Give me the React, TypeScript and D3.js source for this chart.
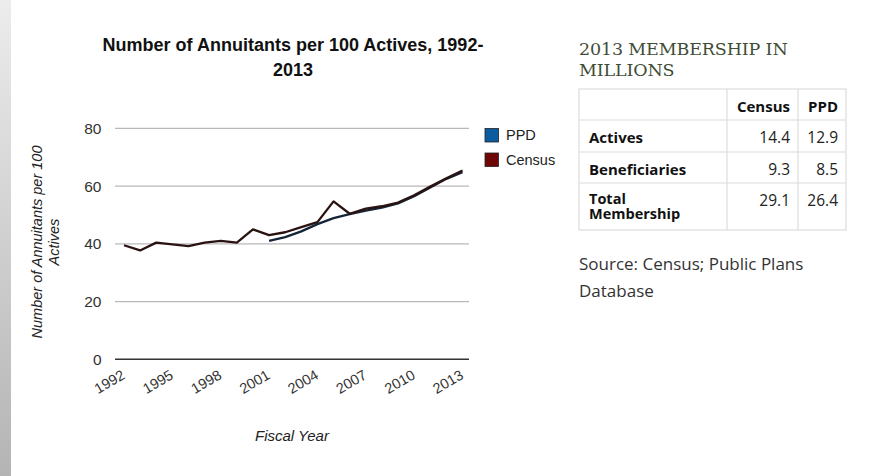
import React from "react";
import * as d3 from "d3";

const years = d3.range(1992, 2014);
const censusValues = [39.5, 37.7, 40.4, 39.8, 39.2, 40.4, 41.0, 40.4, 45.0, 43.0, 44.0, 45.8, 47.5, 54.7, 50.4, 52.2, 53.0, 54.3, 56.8, 59.8, 62.7, 65.4];
const ppdYears = d3.range(2001, 2014);
const ppdValues = [41.0, 42.3, 44.3, 46.8, 48.9, 50.3, 51.5, 52.5, 54.0, 56.5, 59.5, 62.5, 64.8];
const yTicks = [0, 20, 40, 60, 80];
const xTicks = [1992, 1995, 1998, 2001, 2004, 2007, 2010, 2013];
const seriesNames = ["PPD", "Census"];
const seriesColors = ["#0b5c9e", "#6e0606"];
const lineColors = ["#14253a", "#2a1210"];

const tableCols = ["Census", "PPD"];
const tableRows = ["Actives", "Beneficiaries", "Total Membership"];
const censusMembership = ["14.4", "9.3", "29.1"];
const ppdMembership = ["12.9", "8.5", "26.4"];

export default function App() {
  const x = d3.scaleLinear().domain([1992, 2013]).range([124, 462.5]);
  const y = d3.scaleLinear().domain([0, 80]).range([359.3, 128.3]);
  const line = d3.line<[number, number]>().x((d) => x(d[0])).y((d) => y(d[1]));
  const censusPts = years.map((yr, i) => [yr, censusValues[i]] as [number, number]);
  const ppdPts = ppdYears.map((yr, i) => [yr, ppdValues[i]] as [number, number]);

  const sans = "'Liberation Sans', Arial, sans-serif";
  const tFont = "'Open Sans', 'Noto Sans', sans-serif";

  const tx0 = 579, tx1 = 846, c1 = 727, c2 = 798;
  const rowYs = [89, 120, 152, 183, 230];

  return (
    <div style={{ position: "fixed", left: 0, top: 0, width: 896, height: 476, background: "#fff" }}>
      <svg width={896} height={476} style={{ display: "block" }}>
        <defs>
          <linearGradient id="edge" x1="0" y1="0" x2="0" y2="1">
            <stop offset="0" stopColor="#ececec" />
            <stop offset="1" stopColor="#b4b4b4" />
          </linearGradient>
        </defs>
        <rect x={0} y={0} width={896} height={476} fill="#fff" />
        <rect x={0} y={0} width={11} height={476} fill="url(#edge)" />

        {/* Title */}
        <text x={293} y={51} textAnchor="middle" fontFamily={sans} fontWeight="bold" fontSize={18} fill="#111">
          Number of Annuitants per 100 Actives, 1992-
        </text>
        <text x={293} y={75.5} textAnchor="middle" fontFamily={sans} fontWeight="bold" fontSize={18} fill="#111">
          2013
        </text>

        {/* Gridlines */}
        {yTicks.map((t) => (
          <g key={t}>
            <line x1={115} x2={469} y1={y(t)} y2={y(t)} stroke={t === 0 ? "#333" : "#b8b8b8"} strokeWidth={t === 0 ? 1.6 : 1.2} />
            <text x={101.5} y={y(t) + 5.5} textAnchor="end" fontFamily={sans} fontSize={15.5} fill="#333">
              {t}
            </text>
          </g>
        ))}

        {/* X tick labels */}
        {xTicks.map((t) => (
          <text
            key={t}
            transform={`translate(${x(t) + 2},${378}) rotate(-30)`}
            textAnchor="end"
            fontFamily={sans}
            fontSize={14.5}
            fill="#333"
          >
            {t}
          </text>
        ))}

        {/* Axis titles */}
        <text x={292} y={441} textAnchor="middle" fontFamily={sans} fontStyle="italic" fontSize={15} fill="#222">
          Fiscal Year
        </text>
        <g transform="translate(42,242) rotate(-90)">
          <text x={0} y={0} textAnchor="middle" fontFamily={sans} fontStyle="italic" fontSize={14.5} fill="#222">
            Number of Annuitants per 100
          </text>
          <text x={0} y={16.5} textAnchor="middle" fontFamily={sans} fontStyle="italic" fontSize={14.5} fill="#222">
            Actives
          </text>
        </g>

        {/* Lines */}
        <path d={line(ppdPts) || ""} fill="none" stroke={lineColors[0]} strokeWidth={2.3} strokeLinejoin="round" />
        <path d={line(censusPts) || ""} fill="none" stroke={lineColors[1]} strokeWidth={2.3} strokeLinejoin="round" />

        {/* Legend */}
        {seriesNames.map((n, i) => (
          <g key={n} transform={`translate(485,${128.5 + i * 24.5})`}>
            <rect x={0} y={0} width={13.5} height={13.5} fill={seriesColors[i]} stroke="#222" strokeWidth={0.8} />
            <text x={21} y={11.5} fontFamily={sans} fontSize={14.5} fill="#222">
              {n}
            </text>
          </g>
        ))}

        {/* Right panel title */}
        <text x={579} y={55} fontFamily="'DejaVu Serif', serif" fontSize={17.5} fill="#3f4d36" letterSpacing={-0.15}>
          2013 MEMBERSHIP IN
        </text>
        <text x={579} y={75.5} fontFamily="'DejaVu Serif', serif" fontSize={17.5} fill="#3f4d36" letterSpacing={-0.15}>
          MILLIONS
        </text>

        {/* Table */}
        <rect x={tx0} y={rowYs[0]} width={tx1 - tx0} height={rowYs[4] - rowYs[0]} fill="#fff" stroke="#dcdcdc" strokeWidth={1.2} />
        {rowYs.slice(1, 4).map((ry) => (
          <line key={ry} x1={tx0} x2={tx1} y1={ry} y2={ry} stroke="#dcdcdc" strokeWidth={1.2} />
        ))}
        <line x1={c1} x2={c1} y1={rowYs[0]} y2={rowYs[4]} stroke="#dcdcdc" strokeWidth={1.2} />
        <line x1={c2} x2={c2} y1={rowYs[0]} y2={rowYs[4]} stroke="#dcdcdc" strokeWidth={1.2} />

        <text x={790} y={112} textAnchor="end" fontFamily={tFont} fontWeight="bold" fontSize={15} fill="#111">
          {tableCols[0]}
        </text>
        <text x={838} y={112} textAnchor="end" fontFamily={tFont} fontWeight="bold" fontSize={15} fill="#111">
          {tableCols[1]}
        </text>

        {tableRows.map((r, i) => {
          const base = rowYs[i + 1] + 23;
          const fs = 15;
          return (
            <g key={r}>
              {i === 2 ? (
                <text x={589} y={base - 2} fontFamily={tFont} fontWeight="bold" fontSize={14.5} fill="#111">
                  <tspan x={589}>Total</tspan>
                  <tspan x={589} dy={15}>Membership</tspan>
                </text>
              ) : (
                <text x={589} y={base} fontFamily={tFont} fontWeight="bold" fontSize={fs} fill="#111">
                  {r}
                </text>
              )}
              <text x={790} y={base} textAnchor="end" fontFamily={tFont} fontSize={15.5} fill="#222">
                {censusMembership[i]}
              </text>
              <text x={838} y={base} textAnchor="end" fontFamily={tFont} fontSize={15.5} fill="#222">
                {ppdMembership[i]}
              </text>
            </g>
          );
        })}

        {/* Source */}
        <text x={579} y={270} fontFamily={tFont} fontSize={17} fill="#333">
          Source: Census; Public Plans
        </text>
        <text x={579} y={297} fontFamily={tFont} fontSize={17} fill="#333">
          Database
        </text>
      </svg>
    </div>
  );
}
